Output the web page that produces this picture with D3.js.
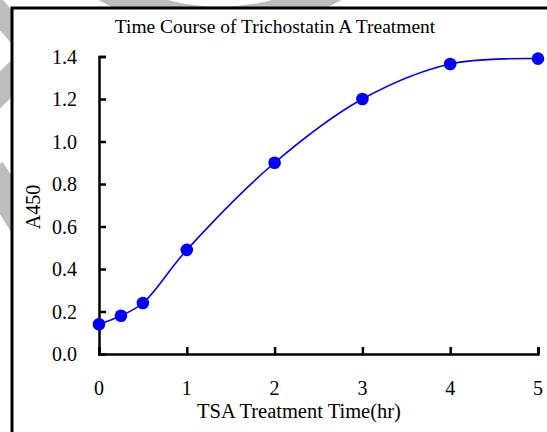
<!DOCTYPE html>
<html>
<head>
<meta charset="utf-8">
<script src="https://cdn.jsdelivr.net/npm/d3@7"></script>
<style>
html,body{margin:0;padding:0;background:#fff;}
svg{display:block;}
text{font-family:"Liberation Serif","Times New Roman",serif;fill:#000;}
</style>
</head>
<body>
<svg id="c" width="547" height="432"></svg>
<script>
const times = [0, 0.25, 0.5, 1, 2, 3, 4, 5];
const a450 = [0.14, 0.18, 0.24, 0.49, 0.90, 1.20, 1.365, 1.39];
const xTicks = [0, 1, 2, 3, 4, 5];
const yTicks = [0, 0.2, 0.4, 0.6, 0.8, 1.0, 1.2, 1.4];
const title = "Time Course of  Trichostatin A Treatment";
const xLabel = "TSA Treatment Time(hr)";
const yLabel = "A450";

const svg = d3.select("#c");

// faint watermark bands behind the frame
const wm = svg.append("g").attr("fill", "none").attr("stroke", "#bdbdbd");
wm.append("path").attr("d", "M-20,-10 L40,60").attr("stroke-width", 22);
wm.append("path").attr("d", "M-30,120 L30,60").attr("stroke-width", 26);
wm.append("path").attr("d", "M-10,170 L40,250").attr("stroke-width", 30);
wm.append("path").attr("d", "M90,-20 Q220,60 350,-20").attr("stroke-width", 26);

// chart frame
svg.append("rect").attr("x", 12).attr("y", 8).attr("width", 560).attr("height", 450)
  .attr("fill", "#fff").attr("stroke", "#000").attr("stroke-width", 3);

const x = d3.scaleLinear().domain([0, 5]).range([99, 538]);
const y = d3.scaleLinear().domain([0, 1.4]).range([354, 56.5]);

// y axis (ticks pointing inward)
const yAxis = d3.axisRight(y).tickValues(yTicks).tickSize(7).tickSizeOuter(7).tickFormat(d3.format(".1f"));
const gy = svg.append("g").attr("transform", `translate(${x(0)},0)`).call(yAxis);
gy.selectAll("text").remove();
gy.select(".domain").attr("stroke", "#000").attr("stroke-width", 2.5);
gy.selectAll(".tick line").attr("stroke", "#000").attr("stroke-width", 2.5);

// x axis (ticks pointing up)
const xAxis = d3.axisTop(x).tickValues(xTicks).tickSize(7).tickSizeOuter(7);
const gx = svg.append("g").attr("transform", `translate(0,${y(0)})`).call(xAxis);
gx.selectAll("text").remove();
gx.select(".domain").attr("stroke", "#000").attr("stroke-width", 2.5);
gx.selectAll(".tick line").attr("stroke", "#000").attr("stroke-width", 2.5);

// tick labels
svg.append("g").selectAll("text").data(yTicks).join("text")
  .attr("x", 77).attr("y", d => y(d)).attr("dy", "0.35em")
  .attr("text-anchor", "end").attr("font-size", 20)
  .text(d => d3.format(".1f")(d));
svg.append("g").selectAll("text").data(xTicks).join("text")
  .attr("x", d => x(d)).attr("y", 388).attr("dy", "0.35em")
  .attr("text-anchor", "middle").attr("font-size", 20)
  .text(d => d);

// titles
svg.append("text").attr("x", 275).attr("y", 26).attr("dy", "0.35em")
  .attr("text-anchor", "middle").attr("font-size", 19.5).text(title);
svg.append("text").attr("x", 299).attr("y", 411).attr("dy", "0.35em")
  .attr("text-anchor", "middle").attr("font-size", 20.5).text(xLabel);
svg.append("text").attr("transform", "translate(33,207) rotate(-90)").attr("dy", "0.35em")
  .attr("text-anchor", "middle").attr("font-size", 20).text(yLabel);

// series
const pts = times.map((t, i) => [t, a450[i]]);
const line = d3.line().x(d => x(d[0])).y(d => y(d[1])).curve(d3.curveCatmullRom.alpha(0.5));
svg.append("path").datum(pts).attr("d", line)
  .attr("fill", "none").attr("stroke", "#0000ff").attr("stroke-width", 1.6);
svg.append("g").selectAll("circle").data(pts).join("circle")
  .attr("cx", d => x(d[0])).attr("cy", d => y(d[1])).attr("r", 6.3)
  .attr("fill", "#0000ff");
</script>
</body>
</html>
